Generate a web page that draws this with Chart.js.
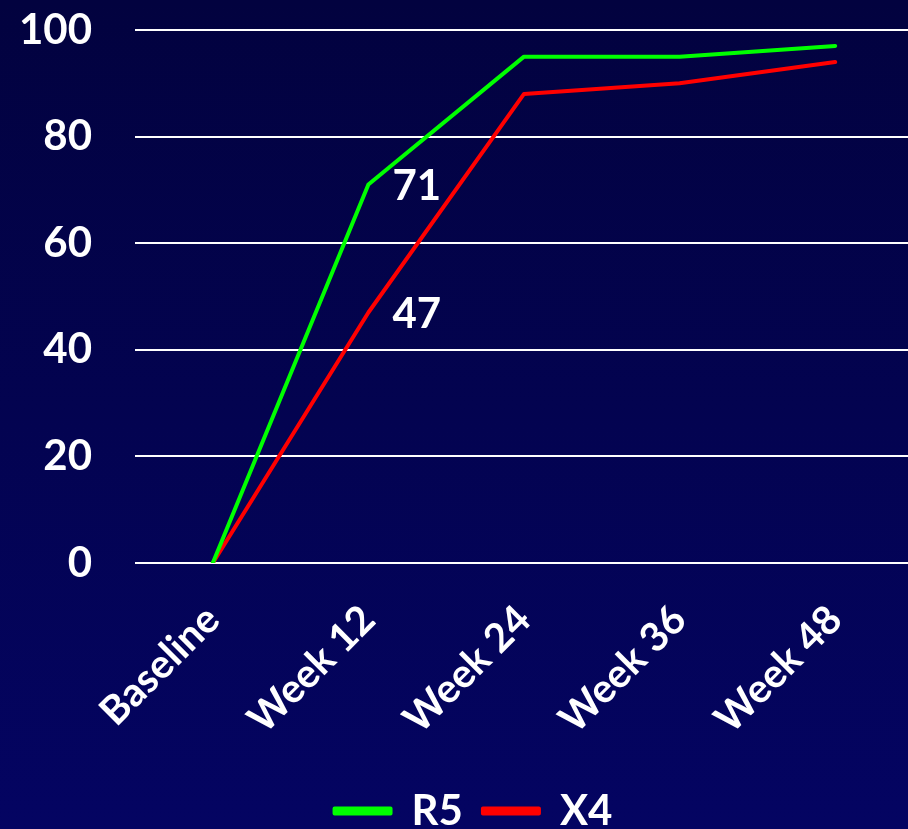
<!DOCTYPE html>
<html>
<head>
<meta charset="utf-8">
<style>
  html, body { margin: 0; padding: 0; overflow: hidden; background: #020244; }
  #wrap { width: 920px; height: 829px; }
</style>
<script src="https://cdn.jsdelivr.net/npm/chart.js@4/dist/chart.umd.min.js"></script>
</head>
<body>
<div id="wrap"><canvas id="chart" width="920" height="829"></canvas></div>
<script>
const categories = ['Baseline', 'Week 12', 'Week 24', 'Week 36', 'Week 48'];
const seriesNames = ['R5', 'X4'];
const r5Values = [0, 71, 95, 95, 97];
const x4Values = [0, 47, 88, 90, 94];
const yTicks = [0, 20, 40, 60, 80, 100];
// Values written next to the Week 12 points
const annotated = [{ series: 0, index: 1 }, { series: 1, index: 1 }];

const FONT = 'Lato, "Open Sans", sans-serif';
const WEIGHT = 'bold';

const backdrop = {
  id: 'backdrop',
  beforeDraw(chart) {
    const { ctx, width, height } = chart;
    const g = ctx.createLinearGradient(0, 0, 0, height);
    g.addColorStop(0, '#02023f');
    g.addColorStop(1, '#040462');
    ctx.save();
    ctx.fillStyle = g;
    ctx.fillRect(0, 0, width, height);
    ctx.restore();
  }
};

// Nudge the legend row a little right and down from its default slot
const legendNudge = {
  id: 'legendNudge',
  afterLayout(chart) {
    const lg = chart.legend;
    if (!lg) return;
    lg.left += 17; lg.right += 17;
    lg.top += 13; lg.bottom += 13;
  }
};

const pointValues = {
  id: 'pointValues',
  afterDatasetsDraw(chart) {
    const { ctx } = chart;
    ctx.save();
    ctx.fillStyle = '#ffffff';
    ctx.font = WEIGHT + ' 42px ' + FONT;
    ctx.textAlign = 'left';
    ctx.textBaseline = 'middle';
    annotated.forEach(a => {
      const v = chart.data.datasets[a.series].data[a.index];
      const x = chart.scales.x.getPixelForValue(a.index);
      const y = chart.scales.y.getPixelForValue(v);
      ctx.fillText(String(v), x + 24, y + 2);
    });
    ctx.restore();
  }
};

new Chart(document.getElementById('chart'), {
  type: 'line',
  data: {
    labels: categories,
    datasets: [
      { label: seriesNames[0], data: r5Values, borderColor: '#00ff00', backgroundColor: '#00ff00' },
      { label: seriesNames[1], data: x4Values, borderColor: '#ff0000', backgroundColor: '#ff0000' }
    ]
  },
  options: {
    responsive: false,
    animation: false,
    layout: { padding: { top: 30, right: 7, left: 0, bottom: 0 } },
    elements: {
      line: { borderWidth: 4, tension: 0, borderCapStyle: 'round', borderJoinStyle: 'round' },
      point: { radius: 0, hoverRadius: 0 }
    },
    plugins: {
      tooltip: { enabled: false },
      legend: {
        position: 'bottom',
        labels: {
          color: '#ffffff',
          font: { size: 42, family: FONT, weight: WEIGHT },
          boxWidth: 56,
          boxHeight: 5,
          padding: 20
        }
      }
    },
    scales: {
      x: {
        offset: true,
        grid: { display: false },
        border: { display: false },
        afterFit(scale) { scale.height = 194; },
        ticks: {
          color: '#ffffff',
          font: { size: 40, family: FONT, weight: WEIGHT },
          minRotation: 45,
          maxRotation: 45,
          padding: 25
        }
      },
      y: {
        min: 0,
        max: 100,
        afterBuildTicks(scale) { scale.ticks = yTicks.map(v => ({ value: v })); },
        afterFit(scale) { scale.width = 135; scale.paddingTop = 0; scale.paddingBottom = 0; },
        grid: { color: '#ffffff', lineWidth: 2, drawTicks: false },
        border: { display: false },
        ticks: {
          color: '#ffffff',
          font: { size: 42, family: FONT, weight: WEIGHT },
          padding: 43
        }
      }
    }
  },
  plugins: [backdrop, legendNudge, pointValues]
});
</script>
</body>
</html>
